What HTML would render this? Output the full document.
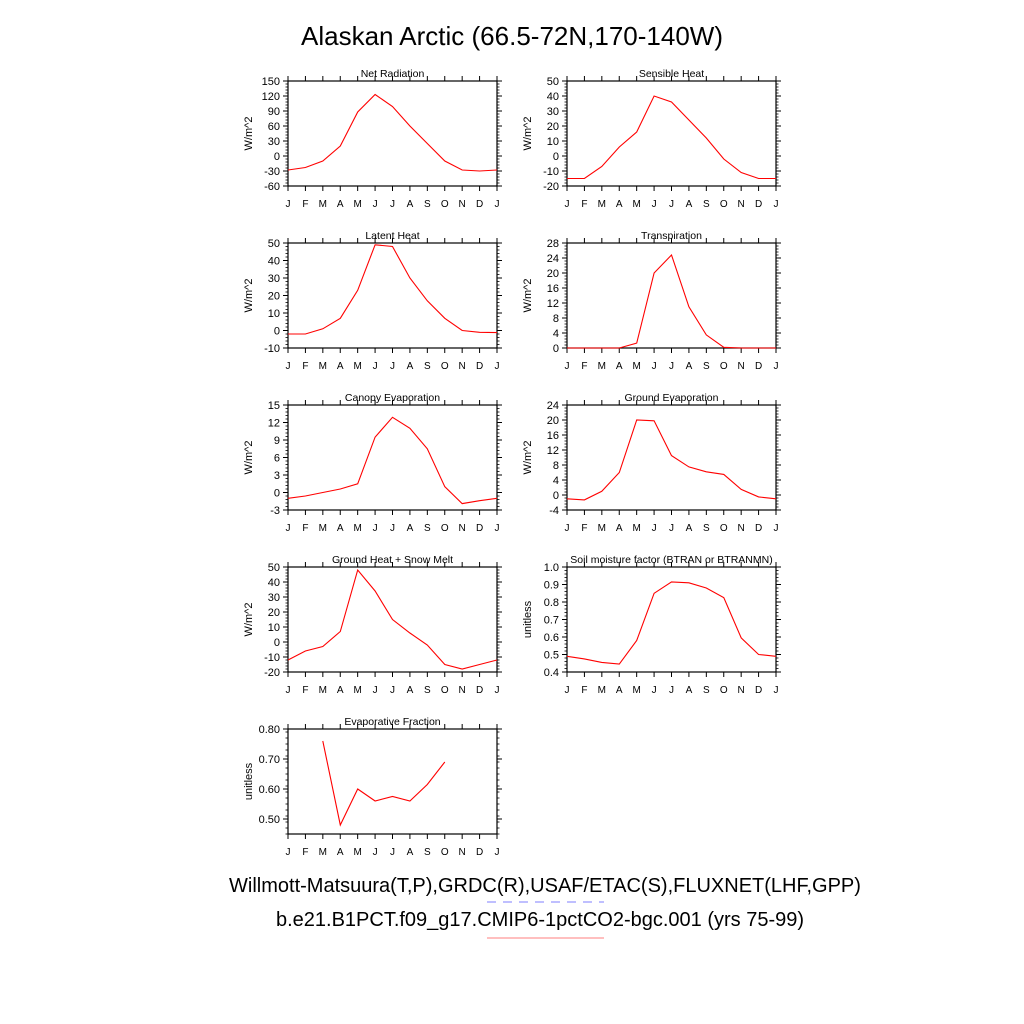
<!DOCTYPE html>
<html><head><meta charset="utf-8"><style>
body{margin:0;background:#fff;}
svg{display:block;font-family:"Liberation Sans",sans-serif;}
</style></head><body>
<svg id="fig" width="1024" height="1024" viewBox="0 0 1024 1024">
<rect width="1024" height="1024" fill="#fff"/>
<text x="512" y="45" font-size="26" text-anchor="middle">Alaskan Arctic (66.5-72N,170-140W)</text>
<text x="545" y="892" font-size="20" text-anchor="middle">Willmott-Matsuura(T,P),GRDC(R),USAF/ETAC(S),FLUXNET(LHF,GPP)</text>
<line x1="487" y1="902" x2="604" y2="902" stroke="#9999ff" stroke-width="1.2" stroke-dasharray="9,7"/>
<text x="540" y="926" font-size="20" text-anchor="middle">b.e21.B1PCT.f09_g17.CMIP6-1pctCO2-bgc.001 (yrs 75-99)</text>
<line x1="487" y1="938" x2="604" y2="938" stroke="#ff9999" stroke-width="1.2"/>
<g id="panels"></g>
</svg>
<script>
const months=["J","F","M","A","M","J","J","A","S","O","N","D","J"];
const netRad=[-28,-23,-10,20,88,123,99,60,25,-10,-28,-30,-28];
const sensible=[-15,-15,-7,6,16,40,36,24,12,-2,-11,-15,-15];
const latent=[-2,-2,1,7,23,49,48,30,17,7,0,-1,-1.2];
const transp=[0,0,0,0,1.3,20,24.8,11,3.5,0.2,0,0,0];
const canopy=[-1,-0.6,0,0.6,1.5,9.5,12.9,11,7.5,1,-1.9,-1.4,-1];
const groundEvap=[-1,-1.3,1,6,20,19.8,10.5,7.5,6.2,5.5,1.5,-0.5,-1];
const groundHeat=[-12,-6,-3,7,48,34,15,6,-2,-15,-18,-15,-12];
const soil=[0.49,0.475,0.455,0.445,0.58,0.85,0.915,0.91,0.88,0.825,0.595,0.5,0.49];
const evapFrac=[null,null,0.76,0.48,0.60,0.56,0.575,0.56,0.615,0.69,null,null,null];
const netRadTicks=[-60,-30,0,30,60,90,120,150];
const sensibleTicks=[-20,-10,0,10,20,30,40,50];
const latentTicks=[-10,0,10,20,30,40,50];
const transpTicks=[0,4,8,12,16,20,24,28];
const canopyTicks=[-3,0,3,6,9,12,15];
const groundEvapTicks=[-4,0,4,8,12,16,20,24];
const groundHeatTicks=[-20,-10,0,10,20,30,40,50];
const soilTicks=[0.4,0.5,0.6,0.7,0.8,0.9,1.0];
const evapFracTicks=[0.50,0.60,0.70,0.80];

const panels=[
 {name:"net-radiation",title:"Net Radiation",d:netRad,t:netRadTicks,lo:-60,hi:150,unit:"W/m^2",col:0,row:0,dec:0},
 {name:"sensible-heat",title:"Sensible Heat",d:sensible,t:sensibleTicks,lo:-20,hi:50,unit:"W/m^2",col:1,row:0,dec:0},
 {name:"latent-heat",title:"Latent Heat",d:latent,t:latentTicks,lo:-10,hi:50,unit:"W/m^2",col:0,row:1,dec:0},
 {name:"transpiration",title:"Transpiration",d:transp,t:transpTicks,lo:0,hi:28,unit:"W/m^2",col:1,row:1,dec:0},
 {name:"canopy-evaporation",title:"Canopy Evaporation",d:canopy,t:canopyTicks,lo:-3,hi:15,unit:"W/m^2",col:0,row:2,dec:0},
 {name:"ground-evaporation",title:"Ground Evaporation",d:groundEvap,t:groundEvapTicks,lo:-4,hi:24,unit:"W/m^2",col:1,row:2,dec:0},
 {name:"ground-heat-snow-melt",title:"Ground Heat + Snow Melt",d:groundHeat,t:groundHeatTicks,lo:-20,hi:50,unit:"W/m^2",col:0,row:3,dec:0},
 {name:"soil-moisture-factor",title:"Soil moisture factor (BTRAN or BTRANMN)",d:soil,t:soilTicks,lo:0.4,hi:1.0,unit:"unitless",col:1,row:3,dec:1},
 {name:"evaporative-fraction",title:"Evaporative Fraction",d:evapFrac,t:evapFracTicks,lo:0.45,hi:0.80,unit:"unitless",col:0,row:4,dec:2}
];
const NS="http://www.w3.org/2000/svg";
const root=document.getElementById("panels");
function mk(tag,attrs,parent){const e=document.createElementNS(NS,tag);for(const k in attrs)e.setAttribute(k,attrs[k]);parent.appendChild(e);return e;}
const colX=[288,567], W=209, rowY=[81,243,405,567,729], H=105;
panels.forEach(p=>{
 const x0=colX[p.col], y0=rowY[p.row];
 const g=mk("g",{},root);
 
 
 const sx=i=>x0+i*W/12;
 const sy=v=>y0+H-(v-p.lo)/(p.hi-p.lo)*H;
 // x ticks
 months.forEach((m,i)=>{
  const x=sx(i);
  mk("line",{x1:x,y1:y0+H,x2:x,y2:y0+H+5,stroke:"#000"},g);
  mk("line",{x1:x,y1:y0,x2:x,y2:y0-5,stroke:"#000"},g);
  const t=mk("text",{x:x,y:y0+H+21,"font-size":10,"text-anchor":"middle"},g);
  t.textContent=m;
  
  
 });
 // y ticks
 const step=p.t[1]-p.t[0];
 const minor=step/5;
 for(let v=p.lo;v<=p.hi+1e-9;v+=minor){
  const y=sy(v);
  mk("line",{x1:x0,y1:y,x2:x0-2.5,y2:y,stroke:"#000","stroke-width":0.8},g);
  mk("line",{x1:x0+W,y1:y,x2:x0+W+2.5,y2:y,stroke:"#000","stroke-width":0.8},g);
 }
 p.t.forEach(v=>{
  const y=sy(v);
  mk("line",{x1:x0,y1:y,x2:x0-5,y2:y,stroke:"#000"},g);
  mk("line",{x1:x0+W,y1:y,x2:x0+W+5,y2:y,stroke:"#000"},g);
  const t=mk("text",{x:x0-8,y:y+4,"font-size":11,"text-anchor":"end"},g);
  t.textContent=v.toFixed(p.dec);
  
  
 });
 mk("rect",{x:x0,y:y0,width:W,height:H,fill:"none",stroke:"#000","stroke-width":1.2},g);
 const tt=mk("text",{x:x0+W/2,y:y0-4,"font-size":10.5,"text-anchor":"middle"},g);
 tt.textContent=p.title;
 
 
 const yl=mk("text",{x:0,y:0,"font-size":11,"text-anchor":"middle",transform:`translate(${x0-36},${y0+H/2}) rotate(-90)`},g);
 yl.textContent=p.unit;
 
 
 let pts=[];
 p.d.forEach((v,i)=>{if(v!==null)pts.push(sx(i).toFixed(1)+","+sy(v).toFixed(1));});
 const line=mk("polyline",{points:pts.join(" "),fill:"none",stroke:"#ff0000","stroke-width":1.1},g);
 
 
});
</script>
</body></html>
